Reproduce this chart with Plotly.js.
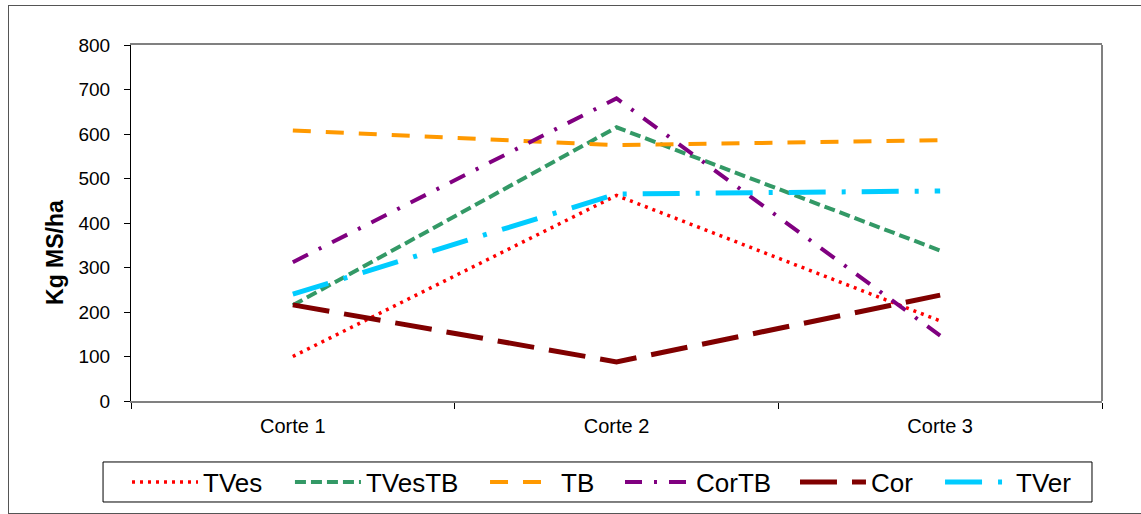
<!DOCTYPE html>
<html>
<head>
<meta charset="utf-8">
<script src="https://cdn.plot.ly/plotly-3.0.1.min.js"></script>
<style>
  html, body { margin: 0; padding: 0; background: #fff; }
  #wrap { position: relative; width: 1141px; height: 514px; overflow: hidden; }
  #chart { position: absolute; left: 0; top: 0; width: 1141px; height: 514px; }
  #frame { position: absolute; left: 8px; top: 5px; width: 1140px; height: 507px; border: 1px solid #555; pointer-events: none; }
</style>
</head>
<body>
<div id="wrap">
  <div id="chart"></div>
  <div id="frame"></div>
</div>
<script>
const categories = ["Corte 1", "Corte 2", "Corte 3"];
const seriesNames = ["TVes", "TVesTB", "TB", "CorTB", "Cor", "TVer"];
const TVes   = [100, 462, 180];
const TVesTB = [215, 615, 338];
const TB     = [608, 575, 586];
const CorTB  = [312, 680, 147];
const Cor    = [216, 88, 238];
const TVer   = [240, 465, 472];
const yTicks = [0, 100, 200, 300, 400, 500, 600, 700, 800];
const yTitle = "Kg MS/ha";

const values = [TVes, TVesTB, TB, CorTB, Cor, TVer];
const styles = [
  {color: "#FF0000", width: 3.5, dash: "3px,5px"},
  {color: "#339966", width: 4,   dash: "11px,5px"},
  {color: "#FF9900", width: 4,   dash: "18px,15px"},
  {color: "#800080", width: 4,   dash: "17px,12px,3px,12px"},
  {color: "#800000", width: 5,   dash: "37px,15px"},
  {color: "#00CCFF", width: 5,   dash: "37px,16px,4px,16px"}
];
// legend entry positions (paper x) for each series
const legendX = [-0.0041, 0.1637, 0.3646, 0.5036, 0.6838, 0.8332];
const legendIds = ["legend", "legend2", "legend3", "legend4", "legend5", "legend6"];

const traces = seriesNames.map((n, i) => ({
  type: "scatter",
  mode: "lines",
  name: n,
  x: categories,
  y: values[i],
  line: styles[i],
  legend: legendIds[i]
}));

const layout = {
  width: 1141,
  height: 514,
  margin: {l: 131, r: 39, t: 45, b: 113, autoexpand: false},
  paper_bgcolor: "#ffffff",
  plot_bgcolor: "#ffffff",
  font: {family: "Liberation Sans, Arial, sans-serif", color: "#000"},
  showlegend: true,
  xaxis: {
    type: "category",
    range: [-0.5, 2.5],
    showgrid: false,
    zeroline: false,
    showline: true,
    linecolor: "#808080",
    linewidth: 2,
    mirror: true,
    ticks: "outside",
    tickson: "boundaries",
    ticklen: 6,
    tickcolor: "#000",
    tickwidth: 1,
    tickfont: {size: 20, color: "#000"},
    ticklabelstandoff: 6,
    fixedrange: true
  },
  yaxis: {
    range: [0, 800],
    tickvals: yTicks,
    ticktext: yTicks.map(String),
    showgrid: false,
    zeroline: false,
    showline: true,
    linecolor: "#000",
    linewidth: 1,
    ticks: "outside",
    ticklen: 6,
    tickcolor: "#000",
    tickfont: {size: 19, color: "#000"},
    ticklabelstandoff: 10,
    fixedrange: true
  },
  annotations: [
    {text: "<b>" + yTitle + "</b>", xref: "paper", yref: "paper", x: -0.0783, y: 0.4185,
     xanchor: "center", yanchor: "middle", textangle: -90, showarrow: false,
     font: {size: 23, color: "#000"}}
  ],
  shapes: [
    {type: "line", xref: "paper", yref: "paper", x0: 1, x1: 1, y0: 0, y1: 1,
     line: {color: "#808080", width: 2}},
    {type: "rect", xref: "paper", yref: "paper", x0: -0.0288, x1: 0.9897, y0: -0.1713, y1: -0.2837,
     line: {color: "#000", width: 1}, fillcolor: "rgba(0,0,0,0)"}
  ]
};

legendIds.forEach((id, i) => {
  layout[id] = {
    orientation: "h",
    x: legendX[i],
    xanchor: "left",
    y: -0.2275,
    yanchor: "middle",
    borderwidth: 0,
    bgcolor: "rgba(0,0,0,0)",
    font: {size: 26, color: "#000"},
    itemwidth: 66
  };
});

Plotly.newPlot("chart", traces, layout, {staticPlot: true, displayModeBar: false});
</script>
</body>
</html>
